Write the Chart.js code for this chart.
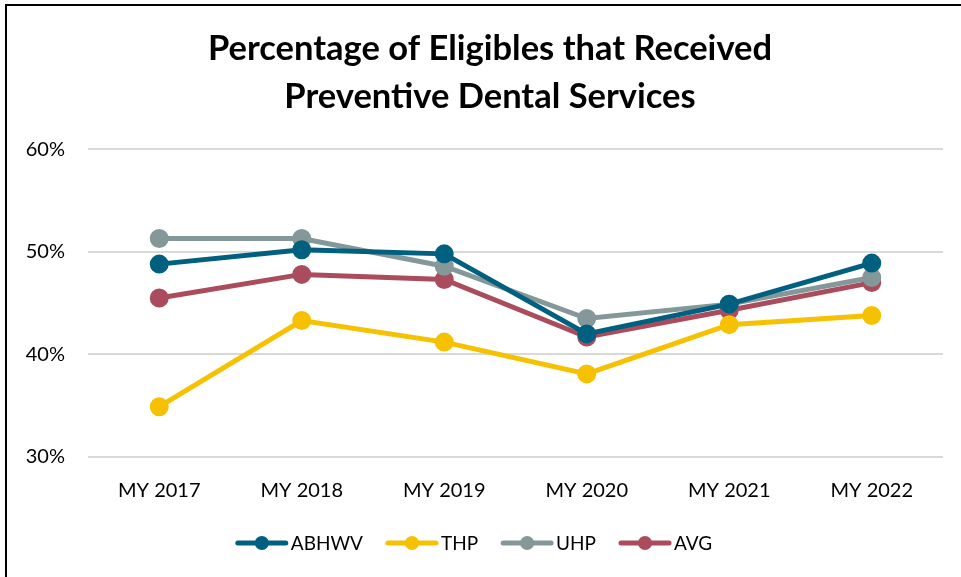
<!DOCTYPE html>
<html>
<head>
<meta charset="utf-8">
<script src="https://cdn.jsdelivr.net/npm/chart.js@4.4.1/dist/chart.umd.min.js"></script>
<style>
  html, body { margin: 0; padding: 0; background: #fff; overflow: hidden; }
  #frame {
    position: absolute; left: 5px; top: 4px; width: 1200px; height: 800px;
    border-left: 2px solid #000; border-top: 2px solid #000;
  }
  #wrap { position: absolute; left: 0; top: 0; width: 961px; height: 577px; }
</style>
</head>
<body>
<div id="frame"></div>
<div id="wrap"><canvas id="dentalChart"></canvas></div>
<script>
/* ===============================
   DATA
================================ */
const years = ["MY 2017", "MY 2018", "MY 2019", "MY 2020", "MY 2021", "MY 2022"];
const abhwv = [48.8, 50.2, 49.8, 42.0, 44.9, 48.9];
const thp = [34.9, 43.3, 41.2, 38.1, 42.9, 43.8];
const uhp = [51.3, 51.3, 48.6, 43.5, 44.9, 47.5];
const avg = [45.5, 47.8, 47.3, 41.7, 44.3, 47.0];
const yTicks = [30, 40, 50, 60];

const FONT = "Lato, 'Open Sans', sans-serif";

function series(label, data, color) {
  return {
    label,
    data,
    borderColor: color,
    backgroundColor: color,
    pointBackgroundColor: color,
    pointBorderColor: color,
    borderWidth: 5,
    pointRadius: 7,
    pointHoverRadius: 7,
    tension: 0,
  };
}

/* ===============================
   TITLE: centre over the frame, not the canvas
================================ */
const titleShift = {
  id: "titleShift",
  afterLayout(chart) {
    if (chart.titleBlock) {
      chart.titleBlock.left = 37;
    }
  },
};

/* ===============================
   LEGEND (line + dot markers)
================================ */
const lineLegend = {
  id: "lineLegend",
  afterDraw(chart) {
    const ctx = chart.ctx;
    const items = chart.data.datasets;
    const markW = 52, gapText = 3, gapItem = 23, y = 543;
    ctx.save();
    ctx.font = "19px " + FONT;
    const widths = items.map((d) => markW + gapText + ctx.measureText(d.label).width);
    const total = widths.reduce((a, b) => a + b, 0) + gapItem * (items.length - 1);
    let x = 474 - total / 2;
    items.forEach((d, i) => {
      ctx.strokeStyle = d.borderColor;
      ctx.lineWidth = 5;
      ctx.lineCap = "round";
      ctx.beginPath();
      ctx.moveTo(x + 2, y);
      ctx.lineTo(x + markW - 2, y);
      ctx.stroke();
      ctx.fillStyle = d.borderColor;
      ctx.beginPath();
      ctx.arc(x + markW / 2, y, 7, 0, Math.PI * 2);
      ctx.fill();
      ctx.fillStyle = "#000";
      ctx.textBaseline = "middle";
      ctx.textAlign = "left";
      ctx.fillText(d.label, x + markW + gapText, y + 1);
      x += widths[i] + gapItem;
    });
    ctx.restore();
  },
};

/* ===============================
   CHART
================================ */
new Chart(document.getElementById("dentalChart"), {
  type: "line",
  data: {
    labels: years,
    datasets: [
      series("ABHWV", abhwv, "#01607f"),
      series("THP", thp, "#f6c100"),
      series("UHP", uhp, "#84989a"),
      series("AVG", avg, "#ab4c5d"),
    ],
  },
  options: {
    responsive: true,
    maintainAspectRatio: false,
    animation: false,
    layout: { padding: { left: 0, right: 18, top: 0, bottom: 76 } },
    plugins: {
      legend: { display: false },
      tooltip: { enabled: false },
      title: {
        display: true,
        text: ["Percentage of Eligibles that Received", "Preventive Dental Services"],
        color: "#000",
        font: { family: FONT, size: 34.5, weight: "bold", lineHeight: 1.38 },
        padding: { top: 25, bottom: 29 },
      },
    },
    scales: {
      x: {
        offset: true,
        grid: { display: false, drawTicks: false },
        border: { display: false },
        ticks: { color: "#000", font: { family: FONT, size: 20 }, padding: 22 },
        afterFit(scale) { scale.height = 44; },
      },
      y: {
        min: 30,
        max: 60,
        afterBuildTicks(scale) { scale.ticks = yTicks.map((v) => ({ value: v })); },
        grid: { color: "#d9d9d9", lineWidth: 2, drawTicks: false },
        border: { display: false },
        ticks: {
          color: "#000",
          font: { family: FONT, size: 20 },
          padding: 23,
          callback: (v) => v + "%",
        },
        afterFit(scale) { scale.width = 88; },
      },
    },
  },
  plugins: [titleShift, lineLegend],
});
</script>
</body>
</html>
